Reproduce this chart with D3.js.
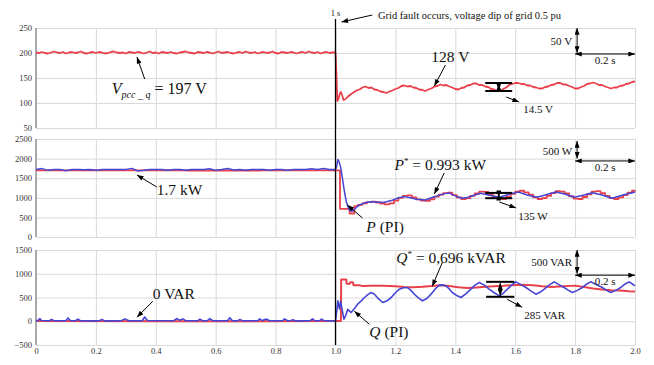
<!DOCTYPE html>
<html>
<head>
<meta charset="utf-8">
<script src="https://cdn.jsdelivr.net/npm/d3@7"></script>
<style>
body { margin: 0; background: #fff; }
svg { display: block; font-family: "Liberation Serif", "Times New Roman", serif; }
.grid line { stroke: #d9d9d9; stroke-width: 1; }
.grid .domain { display: none; }
.grid text { fill: #333; }
</style>
</head>
<body>
<script>
// ---------- data ----------
var tickX = [0, 0.2, 0.4, 0.6, 0.8, 1.0, 1.2, 1.4, 1.6, 1.8, 2.0];
var tickV = [50, 100, 150, 200, 250];
var tickP = [0, 500, 1000, 1500, 2000, 2500];
var tickQ = [-500, 0, 500, 1000, 1500];

// Vpcc_q before the fault, sampled every 0.01 s
var tPre100 = d3.range(0, 100).map(function(i) { return i / 100; });
var vPccPre = [
  201,200,202,200,199,201,203,201,200,202,
  199,201,202,200,201,203,200,199,201,202,
  200,202,201,199,200,202,203,201,200,201,
  199,202,201,200,202,201,199,201,203,200,
  201,199,202,201,200,202,200,199,201,202,
  203,201,200,199,202,201,200,202,201,199,
  201,203,200,201,202,200,199,201,202,200,
  203,201,200,202,199,201,202,200,201,203,
  200,199,202,201,200,202,201,199,201,202,
  200,203,201,200,202,199,201,202,200,201
];
// Vpcc_q after the fault [t, V]
var vPccPost = [
  [1.000,201],[1.003,160],[1.006,104],[1.010,108],[1.014,118],[1.018,122],[1.022,116],[1.027,106],
  [1.032,107],[1.04,112],[1.05,117],[1.06,121],[1.07,125],[1.08,127],[1.09,131],[1.10,133],
  [1.11,130],[1.12,131],[1.13,127],[1.14,126],[1.15,123],[1.16,122],[1.17,120],[1.18,123],
  [1.19,125],[1.20,128],[1.21,130],[1.22,134],[1.23,135],[1.24,133],[1.25,134],[1.26,131],
  [1.27,130],[1.28,127],[1.29,126],[1.30,124],[1.31,127],[1.32,129],[1.33,133],[1.34,134],
  [1.35,137],[1.36,135],[1.37,136],[1.38,133],[1.39,131],[1.40,128],[1.41,127],[1.42,130],
  [1.43,131],[1.44,135],[1.45,136],[1.46,139],[1.47,139],[1.48,136],[1.49,136],[1.50,133],
  [1.51,132],[1.52,128],[1.53,127],[1.54,124],[1.55,124],[1.56,128],[1.57,131],[1.58,136],
  [1.59,138],[1.60,140],[1.61,140],[1.62,138],[1.63,138],[1.64,135],[1.65,135],[1.66,132],
  [1.67,131],[1.68,129],[1.69,129],[1.70,132],[1.71,133],[1.72,136],[1.73,137],[1.74,140],
  [1.75,140],[1.76,137],[1.77,137],[1.78,134],[1.79,132],[1.80,129],[1.81,129],[1.82,132],
  [1.83,134],[1.84,138],[1.85,139],[1.86,141],[1.87,139],[1.88,136],[1.89,136],[1.90,133],
  [1.91,131],[1.92,129],[1.93,131],[1.94,131],[1.95,134],[1.96,135],[1.97,138],[1.98,139],
  [1.99,142],[2.00,143]
];

// P (PI) before the fault, every 0.02 s
var tPre50 = d3.range(0, 51).map(function(i) { return i / 50; });
var pPIPre = [
  1720,1745,1700,1720,1725,1690,1720,1720,1715,1720,
  1700,1720,1720,1720,1720,1725,1750,1685,1700,1720,
  1720,1720,1700,1720,1720,1700,1720,1720,1720,1740,
  1700,1720,1745,1710,1720,1700,1720,1720,1720,1700,
  1720,1720,1700,1720,1720,1720,1740,1720,1745,1720,
  1720
];
var pPIPost = [
  [1.000,1720],[1.004,1800],[1.008,1980],[1.012,1920],[1.018,1750],[1.025,1400],[1.03,1150],
  [1.036,900],[1.045,700],[1.055,650],[1.065,720],[1.075,790],[1.09,850],[1.10,880],[1.12,900],
  [1.14,890],[1.16,880],[1.19,940],[1.21,1000],[1.23,1030],[1.25,1000],[1.27,965],[1.30,945],
  [1.32,1000],[1.34,1050],[1.36,1100],[1.38,1120],[1.40,1050],[1.42,990],[1.44,1010],[1.46,1060],
  [1.485,1115],[1.51,1071],[1.547,1012],[1.575,1080],[1.61,1150],[1.64,1071],[1.673,1012],
  [1.70,1071],[1.735,1150],[1.765,1097],[1.797,1012],[1.83,1071],[1.857,1130],[1.89,1071],
  [1.923,990],[1.96,1071],[2.00,1150]
];
// P* reference [t, W]
var pRefPre = [[0,1698],[0.25,1700],[0.5,1697],[0.75,1700],[1.0,1700]];
var pRefPost = [
  [1.014,1700],[1.015,720],[1.046,720],[1.047,600],[1.062,600],[1.063,790],[1.075,820],[1.09,860],
  [1.105,890],[1.12,900],[1.135,880],[1.15,850],[1.165,830],[1.18,860],[1.195,930],[1.21,1000],
  [1.225,1050],[1.24,1060],[1.255,1010],[1.27,960],[1.285,930],[1.30,920],[1.315,960],[1.33,1030],
  [1.345,1080],[1.36,1120],[1.375,1130],[1.39,1070],[1.405,1010],[1.42,970],[1.435,990],[1.45,1050],
  [1.465,1110],[1.48,1160],[1.495,1150],[1.51,1090],[1.525,1030],[1.54,980],[1.555,970],[1.57,1030],
  [1.585,1100],[1.60,1160],[1.615,1180],[1.63,1140],[1.645,1080],[1.66,1010],[1.675,970],[1.69,990],
  [1.705,1050],[1.72,1120],[1.735,1170],[1.75,1160],[1.765,1110],[1.78,1040],[1.795,980],[1.81,970],
  [1.825,1020],[1.84,1090],[1.855,1160],[1.87,1170],[1.885,1120],[1.90,1050],[1.915,990],[1.93,970],
  [1.945,1010],[1.96,1070],[1.975,1130],[1.99,1180],[2.00,1190]
];

// Q (PI) [t, VAR]
var qPIPre = [
  [0,8],[0.008,20],[0.013,55],[0.018,15],[0.045,10],[0.052,40],[0.06,12],[0.10,10],[0.107,70],
  [0.115,15],[0.132,10],[0.14,45],[0.148,10],[0.21,8],[0.22,35],[0.23,8],[0.285,10],[0.297,50],
  [0.31,12],[0.355,10],[0.363,90],[0.372,15],[0.46,10],[0.47,55],[0.48,20],[0.49,50],[0.50,10],
  [0.54,10],[0.547,45],[0.556,10],[0.572,10],[0.58,55],[0.59,10],[0.64,10],[0.647,75],[0.656,10],
  [0.672,8],[0.68,35],[0.69,10],[0.74,10],[0.747,50],[0.755,15],[0.77,45],[0.78,10],[0.823,10],
  [0.83,50],[0.84,10],[0.85,10],[0.857,30],[0.866,8],[0.915,10],[0.923,50],[0.93,12],[0.947,10],
  [0.953,45],[0.962,10],[1.0,8]
];
var qPIPost = [
  [1.004,200],[1.008,430],[1.013,260],[1.017,420],[1.022,250],[1.028,45],[1.034,120],[1.041,250],
  [1.046,220],[1.052,185],[1.062,260],[1.074,360],[1.086,430],[1.097,500],[1.108,560],[1.119,605],
  [1.13,570],[1.144,470],[1.158,395],[1.172,430],[1.186,500],[1.20,600],[1.213,675],[1.227,705],
  [1.241,710],[1.252,650],[1.263,570],[1.277,490],[1.29,430],[1.305,480],[1.319,570],[1.333,680],
  [1.347,760],[1.358,765],[1.369,745],[1.38,680],[1.39,605],[1.405,540],[1.419,500],[1.436,580],
  [1.452,675],[1.466,760],[1.48,816],[1.497,760],[1.513,675],[1.53,600],[1.547,534],[1.56,590],
  [1.574,675],[1.588,760],[1.602,830],[1.619,770],[1.636,710],[1.652,640],[1.669,570],[1.683,610],
  [1.697,675],[1.713,760],[1.73,830],[1.746,770],[1.763,710],[1.777,655],[1.791,605],[1.808,650],
  [1.824,710],[1.838,780],[1.852,830],[1.872,770],[1.891,710],[1.905,650],[1.919,605],[1.936,650],
  [1.952,710],[1.966,780],[1.98,830],[1.99,790],[2.0,745]
];
// Q* reference [t, VAR]
var qRefPre = [[0,3],[0.5,2],[1.0,3]];
var qRefPost = [
  [1.018,3],[1.019,880],[1.036,880],[1.037,790],[1.048,790],[1.049,820],[1.058,820],[1.06,760],
  [1.08,760],[1.09,740],[1.12,745],[1.15,750],[1.18,740],[1.20,735],[1.23,720],[1.26,715],
  [1.29,725],[1.32,740],[1.35,760],[1.38,740],[1.41,715],[1.44,700],[1.47,710],[1.50,725],
  [1.53,735],[1.56,745],[1.59,760],[1.62,770],[1.66,760],[1.69,735],[1.72,720],[1.76,735],
  [1.80,750],[1.83,720],[1.86,690],[1.89,670],[1.92,655],[1.95,645],[1.98,630],[2.0,625]
];

// ---------- layout ----------
var width = 654, height = 365;
var red = "#e8414b", blue = "#4646d4";
var serif = "'Liberation Serif', 'Times New Roman', serif";

var x = d3.scaleLinear().domain([0, 2]).range([36, 635]);
var yV = d3.scaleLinear().domain([50, 250]).range([128, 28]);
var yP = d3.scaleLinear().domain([0, 2500]).range([237, 139]);
var yQ = d3.scaleLinear().domain([-500, 1500]).range([345, 250]);

var svg = d3.select("body").append("svg")
    .attr("width", width)
    .attr("height", height);

var defs = svg.append("defs");
defs.append("marker")
    .attr("id", "head")
    .attr("viewBox", "0 0 8 6")
    .attr("refX", 8).attr("refY", 3)
    .attr("markerWidth", 7).attr("markerHeight", 5)
    .attr("markerUnits", "userSpaceOnUse")
    .attr("orient", "auto-start-reverse")
  .append("path")
    .attr("d", "M0,0L8,3L0,6z")
    .attr("fill", "#000");

// panels: grid + axis
var panels = [
  {y: yV, ticks: tickV, last: false},
  {y: yP, ticks: tickP, last: false},
  {y: yQ, ticks: tickQ, last: true}
];

panels.forEach(function(p) {
  var r = p.y.range();   // [bottom, top]
  svg.append("g")
      .attr("class", "grid")
      .attr("transform", "translate(" + x.range()[0] + ",0)")
      .call(d3.axisLeft(p.y).tickValues(p.ticks).tickFormat(d3.format("d"))
        .tickSize(-(x.range()[1] - x.range()[0])).tickPadding(4))
      .attr("font-family", serif)
      .attr("font-size", 8.5);

  svg.append("g")
      .attr("class", "grid")
      .attr("transform", "translate(0," + r[0] + ")")
      .call(d3.axisBottom(x).tickValues(tickX)
        .tickSize(-(r[0] - r[1])).tickPadding(3)
        .tickFormat(p.last ? function(d) { return d === 0 ? "0" : d3.format(".1f")(d); } : ""))
      .attr("font-family", serif)
      .attr("font-size", 8.5);

  // left axis line
  svg.append("line")
      .attr("x1", x(0)).attr("x2", x(0))
      .attr("y1", r[1]).attr("y2", r[0])
      .attr("stroke", "#9a9a9a").attr("stroke-width", 1.6);
});

// ---------- curves ----------
function path(data, y, color, w, curve) {
  svg.append("path")
      .datum(data)
      .attr("fill", "none")
      .attr("stroke", color)
      .attr("stroke-width", w)
      .attr("stroke-linejoin", "round")
      .attr("d", d3.line()
        .x(function(d) { return x(d[0]); })
        .y(function(d) { return y(d[1]); })
        .curve(curve || d3.curveLinear));
}

var vPcc = tPre100.map(function(t, i) { return [t, vPccPre[i]]; }).concat(vPccPost);
var pPI = tPre50.map(function(t, i) { return [t, pPIPre[i]]; }).concat(pPIPost);
var pRef = pRefPre.concat(pRefPost);
var qPI = qPIPre.concat(qPIPost);
var qRef = qRefPre.concat(qRefPost);

path(vPcc, yV, red, 1.8);
path(pRef, yP, red, 1.8, d3.curveStepAfter);
path(pPI, yP, blue, 1.5);
path(qRef, yQ, red, 2);
path(qPI, yQ, blue, 1.6);

// ---------- annotations ----------
var ann = svg.append("g");

function arrow(x1, y1, x2, y2, both) {
  var l = ann.append("line")
      .attr("x1", x1).attr("y1", y1).attr("x2", x2).attr("y2", y2)
      .attr("stroke", "#000").attr("stroke-width", 1)
      .attr("marker-end", "url(#head)");
  if (both) l.attr("marker-start", "url(#head)");
}

function label(xp, yp, size, parts, anchor) {
  var t = ann.append("text")
      .attr("x", xp).attr("y", yp)
      .attr("text-anchor", anchor || "start")
      .style("font-size", size + "px")
      .attr("fill", "#111");
  parts.forEach(function(p) {
    var s = t.append("tspan").text(p.t);
    if (p.i) s.style("font-style", "italic");
    if (p.size) s.style("font-size", p.size + "px");
    if (p.dy) s.attr("dy", p.dy);
  });
}

function ampBar(t0, t1, y, v0, v1) {
  [v0, v1].forEach(function(v) {
    ann.append("line")
        .attr("x1", x(t0)).attr("x2", x(t1))
        .attr("y1", y(v)).attr("y2", y(v))
        .attr("stroke", "#000").attr("stroke-width", 2);
  });
  arrow(x((t0 + t1) / 2), y(v0) + 1, x((t0 + t1) / 2), y(v1) - 1, true);
}

// fault line
ann.append("line")
    .attr("x1", x(1)).attr("x2", x(1))
    .attr("y1", 19).attr("y2", yQ(-500))
    .attr("stroke", "#000").attr("stroke-width", 1.3);
label(x(1), 16, 8.5, [{t: "1 s"}], "middle");
arrow(x(1.123), 15, x(1.02), 22);
label(378, 19, 10.5, [{t: "Grid fault occurs, voltage dip of grid 0.5 pu"}]);

// top panel
label(x(0.253), yV(118), 16, [{t: "V", i: true}, {t: "pcc _ q", i: true, size: 10, dy: 4}, {t: " = 197 V", dy: -4}]);
arrow(x(0.363), yV(148), x(0.337), yV(192));
label(x(1.32), yV(182), 15.5, [{t: "128 V"}]);
arrow(x(1.367), yV(176), x(1.33), yV(134));
ampBar(1.50, 1.59, yV, 140, 124);
arrow(x(1.57), yV(112), x(1.613), yV(102));
label(x(1.627), yV(80), 11, [{t: "14.5 V"}]);

// middle panel
label(x(0.403), yP(1071), 15.5, [{t: "1.7 kW"}]);
arrow(x(0.403), yP(1276), x(0.337), yP(1582));
label(x(1.197), yP(1709), 15.5, [{t: "P", i: true}, {t: "*", size: 9, dy: -6}, {t: " = 0.993 kW", dy: 6}]);
arrow(x(1.363), yP(1633), x(1.33), yP(1097));
ampBar(1.50, 1.59, yP, 1125, 990);
arrow(x(1.547), yP(893), x(1.603), yP(740));
label(x(1.61), yP(434), 11, [{t: "135 W"}]);
label(x(1.103), yP(128), 15.5, [{t: "P", i: true}, {t: "  (PI)"}]);
arrow(x(1.09), yP(485), x(1.04), yP(816));

// bottom panel
label(x(0.39), yQ(463), 15.5, [{t: "0 VAR"}]);
arrow(x(0.39), yQ(421), x(0.337), yQ(84));
label(x(1.203), yQ(1221), 15.5, [{t: "Q", i: true}, {t: "*", size: 9, dy: -6}, {t: " = 0,696 kVAR", dy: 6}]);
arrow(x(1.357), yQ(1242), x(1.323), yQ(737));
ampBar(1.503, 1.597, yQ, 830, 515);
arrow(x(1.573), yQ(463), x(1.623), yQ(295));
label(x(1.63), yQ(42), 11, [{t: "285 VAR"}]);
label(x(1.113), yQ(-337), 15.5, [{t: "Q", i: true}, {t: "  (PI)"}]);
arrow(x(1.113), yQ(-63), x(1.063), yQ(210));

// scale bars (0.2 s and one unit of each panel)
function scaleBar(y, vTop, vBot, vH, unit, sY) {
  var xs = x(1.8) + 2;
  arrow(xs, y(vTop), xs, y(vBot), true);
  arrow(x(1.8), y(vH), x(2.0), y(vH), true);
  label(xs - 5, y(vTop) + 10 + sY, 11, [{t: unit}], "end");
  label(x(1.9), y(vH) + 10, 11, [{t: "0.2 s"}], "middle");
}
scaleBar(yV, 250, 200, 198, "50 V", 7);
scaleBar(yP, 2450, 2000, 1940, "500 W", 4);
scaleBar(yQ, 1500, 1000, 970, "500 VAR", 6);
</script>
</body>
</html>
